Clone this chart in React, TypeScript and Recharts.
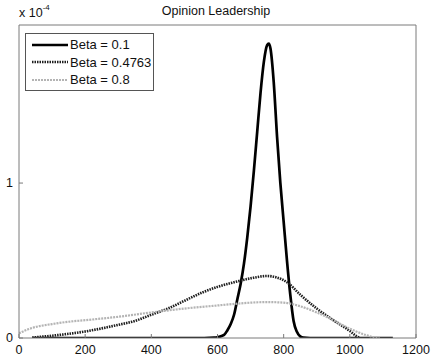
import React from 'react';
import { LineChart, Line, XAxis, YAxis, Legend } from 'recharts';

const FONT = '"Liberation Sans", Arial, sans-serif';

const xTicks = [0, 200, 400, 600, 800, 1000, 1200];
const yTicks = [0, 1];
const titleText = 'Opinion Leadership';
const seriesNames = ['Beta = 0.1', 'Beta = 0.4763', 'Beta = 0.8'];

// values in units of 1e-4
const beta01X = [40, 200, 400, 560, 590, 600, 620, 630, 640, 650, 660, 670, 680, 690, 700, 710, 720, 730, 740, 750, 755, 760, 770, 780, 790, 800, 810, 820, 830, 840, 850, 860, 880, 1000, 1130];
const beta01Y = [0, 0, 0, 0, 0.002, 0.005, 0.02, 0.05, 0.09, 0.15, 0.25, 0.35, 0.48, 0.65, 0.85, 1.08, 1.33, 1.58, 1.78, 1.89, 1.9, 1.87, 1.65, 1.3, 1.0, 0.75, 0.5, 0.28, 0.11, 0.04, 0.01, 0.002, 0, 0, 0];

const beta04X = [40, 100, 150, 200, 250, 300, 350, 400, 450, 500, 550, 600, 650, 700, 750, 780, 810, 850, 900, 950, 1000, 1020, 1030];
const beta04Y = [0.003, 0.015, 0.027, 0.042, 0.062, 0.085, 0.11, 0.15, 0.19, 0.24, 0.29, 0.33, 0.36, 0.385, 0.4, 0.39, 0.36, 0.28, 0.19, 0.115, 0.045, 0.012, 0];

const beta08X = [0, 20, 40, 100, 150, 200, 300, 400, 500, 600, 700, 750, 800, 850, 900, 950, 1000, 1050, 1080, 1090];
const beta08Y = [0.03, 0.05, 0.065, 0.09, 0.105, 0.115, 0.137, 0.165, 0.19, 0.21, 0.228, 0.232, 0.228, 0.205, 0.165, 0.115, 0.06, 0.018, 0.002, 0];

const toPoints = (xs: number[], ys: number[]) => xs.map((x, i) => ({ x, y: ys[i] }));

const d01 = toPoints(beta01X, beta01Y);
const d04 = toPoints(beta04X, beta04Y);
const d08 = toPoints(beta08X, beta08Y);

const AXIS = '#7a7a7a';
const tickStyle = { fontFamily: FONT, fontSize: 12.5, fill: '#111' };

const series = [
  { name: seriesNames[0], data: d01, color: '#000000', width: 2.7, dash: undefined as string | undefined },
  { name: seriesNames[1], data: d04, color: '#1e1e1e', width: 2.6, dash: '1.5 1' },
  { name: seriesNames[2], data: d08, color: '#b4b4b4', width: 2.2, dash: '2 1' },
];

const LegendBox = () => (
  <div
    style={{
      border: '1px solid #555',
      background: '#fff',
      width: 129,
      height: 58,
      boxSizing: 'border-box',
      paddingTop: 2,
      fontFamily: FONT,
      fontSize: 13,
      color: '#111',
    }}
  >
    {series.map((s) => (
      <div key={s.name} style={{ display: 'flex', alignItems: 'center', height: 17.5 }}>
        <svg width={44} height={10} style={{ display: 'block' }}>
          <line x1={6} x2={42} y1={5} y2={5} stroke={s.color} strokeWidth={s.width} strokeDasharray={s.dash} />
        </svg>
        <span style={{ whiteSpace: 'nowrap' }}>{s.name}</span>
      </div>
    ))}
  </div>
);

export default function App() {
  return (
    <div style={{ position: 'absolute', left: 0, top: 0, width: 432, height: 360, background: '#fff' }}>
      <div
        style={{
          position: 'absolute',
          left: 0,
          width: 432,
          top: 4,
          textAlign: 'center',
          fontFamily: FONT,
          fontSize: 12.5,
          color: '#111',
        }}
      >
        {titleText}
      </div>
      <div
        style={{
          position: 'absolute',
          left: 19,
          top: 6,
          fontFamily: FONT,
          fontSize: 12.5,
          color: '#111',
          whiteSpace: 'nowrap',
        }}
      >
        x 10<sup style={{ fontSize: 8, verticalAlign: 'top', position: 'relative', top: -3 }}>-4</sup>
      </div>
      <LineChart width={432} height={360} margin={{ top: 24, right: 15, bottom: 0, left: 0 }}>
        <XAxis
          xAxisId={0}
          type="number"
          dataKey="x"
          domain={[0, 1200]}
          ticks={xTicks}
          allowDataOverflow
          height={22}
          stroke={AXIS}
          tickSize={-4}
          tickMargin={11}
          tick={tickStyle}
          interval={0}
        />
        <XAxis
          xAxisId="top"
          orientation="top"
          type="number"
          dataKey="x"
          domain={[0, 1200]}
          ticks={xTicks}
          height={1}
          stroke={AXIS}
          tickSize={-4}
          tick={false}
          interval={0}
        />
        <YAxis
          yAxisId={0}
          type="number"
          domain={[0, 2.02]}
          ticks={yTicks}
          allowDataOverflow
          width={19}
          stroke={AXIS}
          tickSize={-4}
          tickMargin={10}
          tick={tickStyle}
          interval={0}
        />
        <YAxis
          yAxisId="right"
          orientation="right"
          type="number"
          domain={[0, 2.02]}
          ticks={yTicks}
          width={1}
          stroke={AXIS}
          tickSize={-4}
          tick={false}
          interval={0}
        />
        <Legend
          layout="vertical"
          align="center"
          verticalAlign="middle"
          content={() => <LegendBox />}
          wrapperStyle={{ position: 'absolute', left: 25, top: 33, width: 130, height: 60 }}
        />
        {series.map((s) => (
          <Line
            key={s.name}
            name={s.name}
            data={s.data}
            dataKey="y"
            xAxisId={0}
            yAxisId={0}
            type="monotone"
            stroke={s.color}
            strokeWidth={s.width}
            strokeDasharray={s.dash}
            dot={false}
            activeDot={false}
            isAnimationActive={false}
          />
        ))}
      </LineChart>
    </div>
  );
}
